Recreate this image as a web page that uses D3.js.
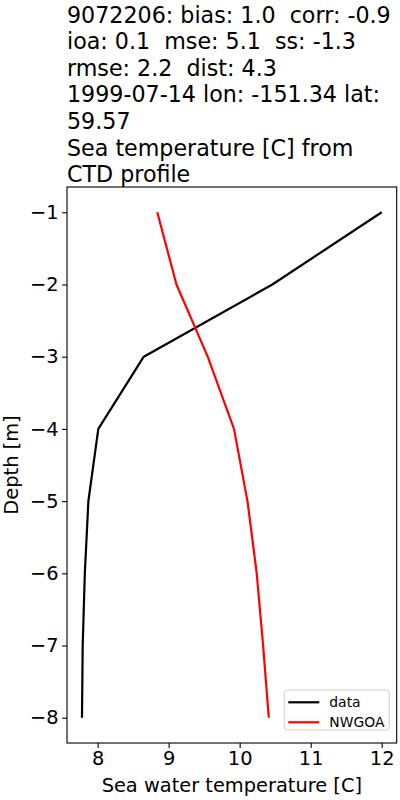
<!DOCTYPE html>
<html>
<head>
<meta charset="utf-8">
<script src="https://cdn.jsdelivr.net/npm/d3@7"></script>
<style>
  body { margin: 0; background: #fff; }
  text { font-family: "DejaVu Sans", sans-serif; fill: #000; }
</style>
</head>
<body>
<div id="chart"></div>
<script>
// chart data
var depths = [-1, -2, -3, -4, -5, -6, -7, -8];
var dataTemp = [12.0, 10.46, 8.65, 8.01, 7.87, 7.82, 7.79, 7.78];
var nwgoaTemp = [8.84, 9.11, 9.55, 9.92, 10.11, 10.24, 10.33, 10.41];
var xTicks = [8, 9, 10, 11, 12];
var yTicks = [-1, -2, -3, -4, -5, -6, -7, -8];
var titleLines = [
  "9072206: bias: 1.0  corr: -0.9",
  "ioa: 0.1  mse: 5.1  ss: -1.3",
  "rmse: 2.2  dist: 4.3",
  "1999-07-14 lon: -151.34 lat:",
  "59.57",
  "Sea temperature [C] from",
  "CTD profile"
];
var seriesNames = ["data", "NWGOA"];
var seriesColors = ["#000000", "#ff0000"];

var svgWidth = 400;
var svgHeight = 800;
var margin = { top: 187, right: 3.3, bottom: 57, left: 67 };
var width = svgWidth - margin.left - margin.right;
var height = svgHeight - margin.top - margin.bottom;

var svg = d3.select("#chart")
  .append("svg")
  .attr("width", svgWidth)
  .attr("height", svgHeight);

// title, left aligned over the axes
var title = svg.append("text")
  .attr("x", margin.left)
  .attr("y", 22.5)
  .attr("xml:space", "preserve")
  .style("font-size", "22.2px");
title.selectAll("tspan")
  .data(titleLines)
  .enter()
  .append("tspan")
  .attr("x", margin.left)
  .attr("dy", (d, i) => i === 0 ? 0 : 26.6)
  .text(d => d);

var chartGroup = svg.append("g")
  .attr("transform", `translate(${margin.left}, ${margin.top})`);

// scales with matplotlib-style 5% margins
var allX = dataTemp.concat(nwgoaTemp);
var xMin = d3.min(allX), xMax = d3.max(allX);
var xPad = (xMax - xMin) * 0.05;
var xScale = d3.scaleLinear()
  .domain([xMin - xPad, xMax + xPad])
  .range([0, width]);

var yMin = d3.min(depths), yMax = d3.max(depths);
var yPad = (yMax - yMin) * 0.05;
var yScale = d3.scaleLinear()
  .domain([yMin - yPad, yMax + yPad])
  .range([height, 0]);

var bottomAxis = d3.axisBottom(xScale)
  .tickValues(xTicks)
  .tickFormat(d3.format("d"))
  .tickSize(4.9)
  .tickPadding(3.8);
var leftAxis = d3.axisLeft(yScale)
  .tickValues(yTicks)
  .tickFormat(d3.format("d"))
  .tickSize(4.9)
  .tickPadding(3.5);

var xAxis = chartGroup.append("g")
  .attr("transform", `translate(0, ${height})`)
  .call(bottomAxis);
var yAxis = chartGroup.append("g")
  .call(leftAxis);

[xAxis, yAxis].forEach(function(ax) {
  ax.attr("font-size", null).attr("font-family", null);
  ax.select(".domain").remove();
  ax.selectAll("line").attr("stroke", "#000").attr("stroke-width", 1.1);
  ax.selectAll("text")
    .style("font-size", "19.4px")
    .attr("fill", "#000");
});
xAxis.selectAll("text").attr("dy", "0.71em");

// lines
var line = d3.line()
  .x(d => xScale(d[0]))
  .y(d => yScale(d[1]));

var seriesValues = [dataTemp, nwgoaTemp];
seriesValues.forEach(function(vals, i) {
  chartGroup.append("path")
    .datum(vals.map((v, j) => [v, depths[j]]))
    .attr("fill", "none")
    .attr("stroke", seriesColors[i])
    .attr("stroke-width", 2.2)
    .attr("stroke-linejoin", "round")
    .attr("d", line);
});

// frame
chartGroup.append("rect")
  .attr("x", 0)
  .attr("y", 0)
  .attr("width", width)
  .attr("height", height)
  .attr("fill", "none")
  .attr("stroke", "#000")
  .attr("stroke-width", 1.1);

// axis labels
svg.append("text")
  .attr("x", margin.left + width / 2)
  .attr("y", 792)
  .attr("text-anchor", "middle")
  .style("font-size", "19.4px")
  .text("Sea water temperature [C]");

svg.append("text")
  .attr("transform", `translate(17.5, ${margin.top + height / 2}) rotate(-90)`)
  .attr("text-anchor", "middle")
  .style("font-size", "19.4px")
  .text("Depth [m]");

// legend
var legW = 105, legH = 40;
var legend = chartGroup.append("g")
  .attr("transform", `translate(${width - 7.4 - legW}, ${height - 13 - legH})`);
legend.append("rect")
  .attr("width", legW)
  .attr("height", legH)
  .attr("rx", 3)
  .attr("fill", "#fff")
  .attr("fill-opacity", 0.8)
  .attr("stroke", "#d0d0d0")
  .attr("stroke-width", 1);

seriesNames.forEach(function(name, i) {
  var ly = 12.3 + i * 20;
  legend.append("line")
    .attr("x1", 4)
    .attr("x2", 35)
    .attr("y1", ly)
    .attr("y2", ly)
    .attr("stroke", seriesColors[i])
    .attr("stroke-width", 2.2);
  legend.append("text")
    .attr("x", 45)
    .attr("y", ly + 5)
    .style("font-size", "13.9px")
    .text(name);
});
</script>
</body>
</html>
